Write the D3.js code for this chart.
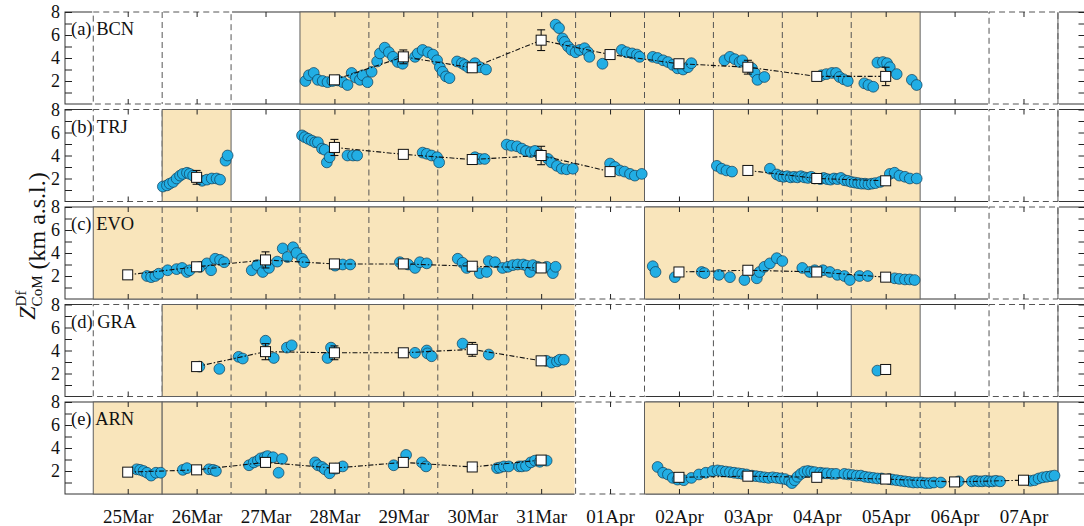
<!DOCTYPE html>
<html>
<head>
<meta charset="utf-8">
<script src="https://cdn.jsdelivr.net/npm/d3@7"></script>
<style>
  body { margin: 0; background: #fff; }
  svg { display: block; font-family: "Liberation Serif", "Times New Roman", serif; }
</style>
</head>
<body>
<div id="chart"></div>
<script>
(function () {
  // days are counted from 25 Mar 00:00 (UTC)
  var dayLabels = ['25Mar', '26Mar', '27Mar', '28Mar', '29Mar', '30Mar', '31Mar',
                   '01Apr', '02Apr', '03Apr', '04Apr', '05Apr', '06Apr', '07Apr'];
  var siteLabels = ['(a) BCN', '(b) TRJ', '(c) EVO', '(d) GRA', '(e) ARN'];
  var yTicks = [1, 2, 3, 4, 5, 6, 7, 8];

  // [kind, first day, end day]
  var blocksBCN = [['dash', 0, 2], ['tan', 3, 12], ['dash', 13, 14]];
  var blocksTRJ = [['dash', 0, 1], ['tan', 1, 2], ['tan', 3, 8], ['tan', 9, 12], ['dash', 13, 14]];
  var blocksEVO = [['tan', 0, 7], ['dash', 7, 8], ['tan', 8, 12], ['dash', 13, 14]];
  var blocksGRA = [['dash', 0, 1], ['tan', 1, 7], ['dash', 7, 8], ['dash', 9, 10], ['tan', 11, 12], ['dash', 13, 14]];
  var blocksARN = [['tan', 0, 1], ['tan', 1, 7], ['dash', 7, 8], ['tan', 8, 14]];

  // [day, km]
  var ptsBCN = [
    [3.08,2.0],[3.13,2.5],[3.20,2.7],[3.26,2.1],[3.33,2.0],[3.40,1.9],[3.47,2.0],[3.55,2.05],[3.62,1.9],
    [3.69,1.65],[3.75,2.7],[3.81,2.3],[3.87,2.1],[3.91,2.5],[3.98,1.9],[4.04,2.8],[4.12,3.7],[4.16,4.4],
    [4.23,4.9],[4.29,4.5],[4.35,4.1],[4.42,3.65],[4.49,3.5],[4.67,4.1],[4.71,4.4],[4.78,4.7],[4.86,4.5],
    [4.93,4.3],[4.99,3.8],[5.03,3.2],[5.07,2.8],[5.12,2.4],[5.17,2.25],[5.28,3.7],[5.35,3.55],[5.39,3.4],
    [5.44,3.2],[5.54,3.55],[5.61,3.2],[5.70,3.0],[6.71,6.9],[6.76,6.6],[6.81,5.7],[6.84,5.4],[6.89,5.0],
    [6.94,4.7],[7.00,4.5],[7.06,4.7],[7.13,4.85],[7.18,4.5],[7.20,4.1],[7.39,3.5],[7.67,4.7],[7.74,4.5],
    [7.82,4.4],[7.89,4.3],[7.93,4.1],[8.12,4.1],[8.19,4.0],[8.27,3.8],[8.34,3.65],[8.41,3.4],[8.48,3.1],
    [8.56,3.0],[8.63,3.2],[8.68,3.55],[9.16,3.8],[9.24,4.1],[9.31,3.9],[9.38,3.65],[9.42,3.8],[9.56,3.1],
    [9.60,2.7],[9.64,2.1],[9.74,2.35],[10.57,2.5],[10.64,2.6],[10.72,2.7],[10.78,2.7],[10.83,2.35],
    [10.89,2.15],[10.95,2.0],[11.19,1.8],[11.25,1.65],[11.32,1.5],[11.38,3.6],[11.46,3.65],[11.52,3.55],
    [11.56,3.2],[11.66,2.6],[11.88,2.1],[11.95,1.65]
  ];
  // [day, km, error]
  var meanBCN = [[3.5,2.1,0.2],[4.5,4.1,0.6],[5.5,3.15,0.3],[6.5,5.55,0.9],[7.5,4.3,0.3],
                 [8.5,3.5,0.2],[9.5,3.2,0.6],[10.5,2.4,0.2],[11.5,2.4,0.8]];

  var ptsTRJ = [
    [1.01,1.3],[1.07,1.4],[1.11,1.55],[1.16,1.7],[1.21,2.0],[1.26,2.25],[1.30,2.4],[1.36,2.5],[1.40,2.4],
    [1.45,2.25],[1.58,1.8],[1.65,1.9],[1.72,2.0],[1.79,2.0],[1.84,1.9],[1.92,3.55],[1.95,4.0],
    [3.03,5.75],[3.07,5.6],[3.12,5.45],[3.17,5.3],[3.22,5.15],[3.26,5.15],[3.32,4.6],[3.36,4.5],[3.39,3.4],
    [3.43,3.85],[3.69,4.0],[3.77,4.0],[3.83,4.0],[4.78,4.25],[4.84,4.15],[4.91,4.0],[4.99,3.85],[5.02,3.4],
    [5.54,3.85],[5.61,3.7],[5.68,3.7],[6.00,4.95],[6.07,4.85],[6.15,4.8],[6.22,4.6],[6.28,4.4],[6.35,4.3],
    [6.41,4.4],[6.48,4.1],[6.60,3.7],[6.65,3.4],[6.73,3.1],[6.80,2.85],[6.87,2.8],[6.96,2.85],
    [7.50,3.3],[7.57,3.0],[7.64,2.7],[7.71,2.6],[7.79,2.4],[7.86,2.25],[7.96,2.4],
    [9.05,3.1],[9.12,2.85],[9.19,2.7],[9.27,2.6],[9.82,2.85],[9.92,2.35],[9.97,2.2],[10.02,2.15],[10.07,2.2],
    [10.12,2.1],[10.17,2.15],[10.22,2.1],[10.27,2.2],[10.32,2.1],[10.37,2.05],[10.42,2.15],[10.47,2.0],
    [10.55,1.95],[10.60,2.05],[10.65,1.95],[10.70,1.9],[10.75,2.0],[10.80,1.95],[10.85,2.05],[10.90,1.85],
    [10.95,1.8],[11.00,1.7],[11.05,1.65],[11.10,1.6],[11.15,1.55],[11.20,1.55],[11.25,1.5],[11.30,1.55],
    [11.35,1.6],[11.42,1.7],[11.56,2.4],[11.63,2.5],[11.70,2.25],[11.78,2.15],[11.85,2.0],[11.95,2.0]
  ];
  var meanTRJ = [[1.5,2.1,0.6],[3.5,4.7,0.7],[4.5,4.1,0.2],[5.5,3.65,0.2],[6.5,4.0,0.8],
                 [7.5,2.6,0.2],[9.5,2.7,0.1],[10.5,2.0,0.2],[11.5,1.8,0.3]];

  var ptsEVO = [
    [0.78,2.0],[0.84,1.9],[0.90,2.0],[0.95,2.2],[1.08,2.5],[1.21,2.6],[1.29,2.7],[1.36,2.35],[1.40,2.5],
    [1.55,2.8],[1.65,3.1],[1.71,2.5],[1.77,3.5],[1.84,3.4],[1.90,3.2],[2.30,2.5],[2.38,2.95],[2.46,2.35],
    [2.55,2.7],[2.67,3.25],[2.75,4.4],[2.82,3.65],[2.90,4.5],[2.95,4.0],[3.03,3.5],[3.06,3.2],[3.51,2.9],
    [3.62,3.0],[3.73,3.0],[4.45,3.2],[4.57,3.0],[4.67,2.7],[4.74,3.2],[4.84,3.1],[5.29,3.5],[5.36,3.15],
    [5.42,2.7],[5.61,2.25],[5.71,2.35],[5.74,3.3],[5.83,3.2],[5.94,2.7],[6.02,2.8],[6.09,2.95],[6.16,3.0],
    [6.24,3.0],[6.29,2.9],[6.34,2.35],[6.38,2.95],[6.45,2.8],[6.58,2.8],[6.67,2.25],[6.71,2.8],
    [8.12,2.85],[8.16,2.35],[8.44,1.9],[8.83,2.35],[8.87,2.25],[9.08,2.1],[9.24,1.9],[9.45,1.65],[9.63,1.8],
    [9.67,2.35],[9.74,2.8],[9.82,3.1],[9.92,3.55],[10.00,3.3],[10.29,2.7],[10.40,2.35],[10.47,2.5],
    [10.59,2.5],[10.69,2.35],[10.80,2.1],[10.90,2.0],[10.98,1.65],[11.12,2.0],[11.24,2.0],[11.63,1.8],
    [11.70,1.75],[11.78,1.7],[11.85,1.7],[11.92,1.65]
  ];
  var meanEVO = [[0.5,2.1,0.1],[1.5,2.8,0.3],[2.5,3.4,0.7],[3.5,3.05,0.2],[4.5,3.05,0.1],[5.5,2.85,0.1],
                 [6.5,2.7,0.1],[8.5,2.35,0.1],[9.5,2.5,0.1],[10.5,2.35,0.2],[11.5,1.9,0.1]];

  var ptsGRA = [
    [1.54,2.6],[1.83,2.4],[2.11,3.45],[2.17,3.3],[2.50,4.85],[2.62,3.35],[2.81,4.25],[2.88,4.45],
    [3.40,3.35],[3.45,4.25],[4.67,3.8],[4.84,4.0],[4.85,3.75],[4.91,3.5],[5.36,4.6],[5.74,3.65],
    [6.58,3.1],[6.65,2.95],[6.73,3.05],[6.77,3.2],[6.83,3.2],[11.38,2.25]
  ];
  var meanGRA = [[1.5,2.6,0.1],[2.5,3.9,0.7],[3.5,3.8,0.6],[4.5,3.8,0.1],[5.5,4.1,0.6],[6.5,3.1,0.1],
                 [11.5,2.35,0.1]];

  var ptsARN = [
    [0.63,2.15],[0.68,2.1],[0.73,2.0],[0.78,1.85],[0.84,1.6],[0.91,1.85],[0.98,1.85],[1.30,2.1],[1.36,2.25],
    [1.68,2.15],[1.74,2.1],[1.78,2.0],[2.26,2.5],[2.33,2.75],[2.39,2.9],[2.43,3.1],[2.49,3.2],[2.53,3.3],
    [2.61,3.2],[2.69,1.85],[2.74,3.05],[3.22,2.75],[3.26,2.5],[3.32,2.35],[3.36,2.15],[3.43,1.8],[3.52,2.2],
    [3.62,2.4],[4.36,2.5],[4.54,3.4],[4.77,2.75],[4.83,2.4],[5.86,2.25],[5.90,2.3],[5.96,2.4],[6.03,2.4],
    [6.18,2.4],[6.22,2.4],[6.28,2.45],[6.35,2.75],[6.41,2.9],[6.48,2.8],[6.58,2.9],
    [8.19,2.35],[8.27,1.85],[8.34,1.7],[8.41,1.4],[8.48,1.25],[8.57,1.2],[8.68,1.4],[8.79,1.7],[8.89,1.85],
    [8.99,2.0],[9.06,2.05],[9.12,2.0],[9.18,1.95],[9.24,1.9],[9.30,1.85],[9.36,1.8],[9.42,1.75],[9.48,1.7],
    [9.56,1.6],[9.62,1.55],[9.68,1.5],[9.74,1.45],[9.80,1.4],[9.86,1.45],[9.92,1.4],[9.98,1.35],[10.04,1.3],
    [10.10,1.15],[10.14,0.95],[10.18,1.2],[10.22,1.5],[10.27,1.75],[10.32,1.95],[10.37,2.0],[10.42,1.95],
    [10.47,1.9],[10.55,1.85],[10.60,1.8],[10.65,1.8],[10.72,1.75],[10.78,1.75],[10.90,1.75],[10.96,1.7],
    [11.02,1.65],[11.08,1.6],[11.14,1.6],[11.20,1.5],[11.26,1.45],[11.32,1.4],[11.38,1.35],[11.44,1.35],
    [11.55,1.3],[11.60,1.25],[11.66,1.2],[11.72,1.15],[11.78,1.1],[11.84,1.05],[11.90,1.0],[11.96,1.0],
    [12.02,1.0],[12.08,0.95],[12.14,0.95],[12.20,1.0],[12.30,1.0],[12.56,1.1],[12.75,1.1],[12.80,1.15],
    [12.85,1.1],[12.90,1.1],[12.95,1.15],[13.00,1.1],[13.05,1.1],[13.10,1.15],[13.16,1.1],[13.60,1.15],
    [13.66,1.2],[13.72,1.35],[13.78,1.45],[13.84,1.5],[13.90,1.55],[13.95,1.6]
  ];
  var meanARN = [[0.5,1.9,0.1],[1.5,2.1,0.1],[2.5,2.75,0.4],[3.5,2.25,0.2],[4.5,2.75,0.3],[5.5,2.35,0.1],
                 [6.5,2.95,0.2],[8.5,1.45,0.2],[9.5,1.55,0.1],[10.5,1.45,0.1],[11.5,1.3,0.1],
                 [12.5,1.05,0.1],[13.5,1.2,0.1]];

  var COLOR_TAN   = '#f9e5bb';
  var COLOR_DOT   = '#22aee4';
  var COLOR_EDGE  = '#5f5f5f';
  var W = 1084, H = 526;
  var LEFT = 65, RIGHT = 1085.5;
  var PANEL_TOP = 12, PANEL_H = 92, PANEL_STEP = 97.5;
  var DOT_R = 5.4, SQ = 10;
  var FONT = 18;

  var origin = Date.UTC(2018, 2, 25);
  function toDate(d) { return new Date(origin + d * 864e5); }

  var x = d3.scaleUtc()
    .domain([toDate(-0.41), toDate(14.4)])
    .range([LEFT, RIGHT]);

  var noons = dayLabels.map(function (s, i) { return toDate(i + 0.5); });

  var svg = d3.select('#chart').append('svg')
    .attr('width', W).attr('height', H);

  var panels = [
    { label: siteLabels[0], blocks: blocksBCN, pts: ptsBCN, means: meanBCN },
    { label: siteLabels[1], blocks: blocksTRJ, pts: ptsTRJ, means: meanTRJ },
    { label: siteLabels[2], blocks: blocksEVO, pts: ptsEVO, means: meanEVO },
    { label: siteLabels[3], blocks: blocksGRA, pts: ptsGRA, means: meanGRA },
    { label: siteLabels[4], blocks: blocksARN, pts: ptsARN, means: meanARN }
  ];

  function vline(g, day, top, bottom, dashed, color) {
    var xx = x(toDate(day));
    g.append('line')
      .attr('x1', xx).attr('x2', xx).attr('y1', top).attr('y2', bottom)
      .attr('stroke', color || COLOR_EDGE)
      .attr('stroke-width', 1)
      .attr('stroke-dasharray', dashed ? '6,4' : null);
  }

  panels.forEach(function (p, i) {
    var top = PANEL_TOP + i * PANEL_STEP;
    var bottom = top + PANEL_H;
    var y = d3.scaleLinear().domain([0, 8]).range([bottom, top]);
    var g = svg.append('g');

    // axes box
    g.append('rect')
      .attr('x', LEFT).attr('y', top)
      .attr('width', RIGHT - LEFT).attr('height', PANEL_H)
      .attr('fill', '#fff').attr('stroke', '#333').attr('stroke-width', 1);

    // day blocks
    p.blocks.forEach(function (b) {
      var x0 = x(toDate(b[1])), x1 = x(toDate(b[2]));
      var r = g.append('rect')
        .attr('x', x0).attr('y', top)
        .attr('width', x1 - x0).attr('height', PANEL_H);
      if (b[0] === 'tan') {
        r.attr('fill', COLOR_TAN).attr('stroke', COLOR_EDGE).attr('stroke-width', 1);
      } else {
        r.attr('fill', '#fff').attr('stroke', '#fff').attr('stroke-width', 2);
        g.append('rect')
          .attr('x', x0).attr('y', top)
          .attr('width', x1 - x0).attr('height', PANEL_H)
          .attr('fill', 'none').attr('stroke', '#555')
          .attr('stroke-dasharray', '6,4');
      }
      for (var d = b[1] + 1; d < b[2]; d++) vline(g, d, top, bottom, true, '#555');
    });
    vline(g, 14, top, bottom, false, COLOR_EDGE);

    // ticks
    var yl = g.append('g').attr('transform', 'translate(' + LEFT + ',0)')
      .call(d3.axisLeft(y).tickValues(yTicks).tickSize(-7).tickPadding(5)
        .tickFormat(function (v) { return v % 2 === 0 ? v : ''; }));
    var yr = g.append('g').attr('transform', 'translate(' + RIGHT + ',0)')
      .call(d3.axisRight(y).tickValues(yTicks).tickSize(-7).tickFormat(''));
    var xt = g.append('g').attr('transform', 'translate(0,' + top + ')')
      .call(d3.axisTop(x).tickValues(noons).tickSize(-5).tickFormat(''));
    var xb = g.append('g').attr('transform', 'translate(0,' + bottom + ')')
      .call(d3.axisBottom(x).tickValues(noons).tickSize(-5).tickPadding(16)
        .tickFormat(function (d, k) { return i === panels.length - 1 ? dayLabels[k] : ''; }));
    [yl, yr, xt, xb].forEach(function (a) {
      a.select('.domain').remove();
      a.attr('font-family', null).attr('font-size', FONT);
      a.selectAll('line').attr('stroke', '#222');
      a.selectAll('text').attr('fill', '#111');
    });
    xb.attr('font-size', 19);

    // observations
    g.append('g').selectAll('circle')
      .data(p.pts)
      .join('circle')
      .attr('cx', function (d) { return x(toDate(d[0])); })
      .attr('cy', function (d) { return y(d[1]); })
      .attr('r', DOT_R)
      .attr('fill', COLOR_DOT)
      .attr('stroke', '#0e3c58')
      .attr('stroke-width', 0.7);

    // daily means, joined only on consecutive days
    var runs = [], run = [];
    p.means.forEach(function (m, k) {
      if (k > 0 && Math.round(m[0] - p.means[k - 1][0]) !== 1) { runs.push(run); run = []; }
      run.push(m);
    });
    runs.push(run);
    var line = d3.line()
      .x(function (d) { return x(toDate(d[0])); })
      .y(function (d) { return y(d[1]); });
    runs.forEach(function (r) {
      if (r.length < 2) return;
      g.append('path').attr('d', line(r))
        .attr('fill', 'none').attr('stroke', '#111')
        .attr('stroke-width', 1.1)
        .attr('stroke-dasharray', '5,2,1.5,2');
    });

    var eb = g.append('g').selectAll('g')
      .data(p.means)
      .join('g')
      .attr('stroke', '#111').attr('stroke-width', 1.1);
    eb.append('line')
      .attr('x1', function (d) { return x(toDate(d[0])); })
      .attr('x2', function (d) { return x(toDate(d[0])); })
      .attr('y1', function (d) { return y(d[1] - d[2]); })
      .attr('y2', function (d) { return y(d[1] + d[2]); });
    [-1, 1].forEach(function (s) {
      eb.append('line')
        .attr('x1', function (d) { return x(toDate(d[0])) - 4; })
        .attr('x2', function (d) { return x(toDate(d[0])) + 4; })
        .attr('y1', function (d) { return y(d[1] + s * d[2]); })
        .attr('y2', function (d) { return y(d[1] + s * d[2]); });
    });

    g.append('g').selectAll('rect')
      .data(p.means)
      .join('rect')
      .attr('x', function (d) { return x(toDate(d[0])) - SQ / 2; })
      .attr('y', function (d) { return y(d[1]) - SQ / 2; })
      .attr('width', SQ).attr('height', SQ)
      .attr('fill', '#fff')
      .attr('stroke', '#111')
      .attr('stroke-width', 1);

    g.append('text')
      .attr('x', LEFT + 6).attr('y', top + 23)
      .attr('font-size', 18.5)
      .attr('fill', '#111')
      .text(p.label);
  });

  // y axis title
  var title = svg.append('text')
    .attr('transform', 'translate(45,246) rotate(-90)')
    .attr('text-anchor', 'middle')
    .attr('font-size', 24)
    .attr('fill', '#111');
  title.append('tspan').attr('font-style', 'italic').attr('dy', -10).text('Z');
  title.append('tspan').attr('font-size', 15).attr('dy', -9).text('Df');
  title.append('tspan').attr('font-size', 15).attr('dx', -15.8).attr('dy', 16).text('CoM');
  title.append('tspan').attr('dy', 3).text('\u00a0(km a.s.l.)');
})();
</script>
</body>
</html>
